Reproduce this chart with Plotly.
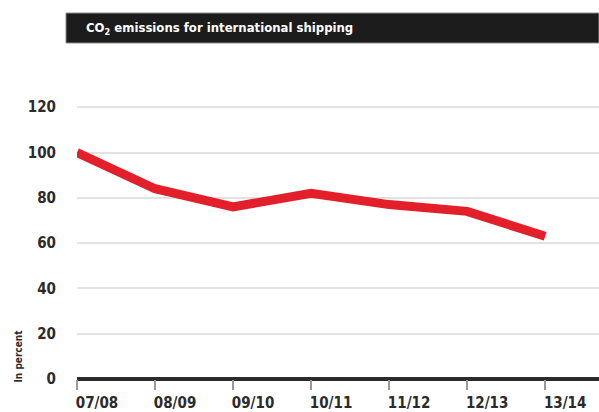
import plotly.graph_objects as go

categories = ["07/08", "08/09", "09/10", "10/11", "11/12", "12/13", "13/14"]
values = [100, 84, 76, 82, 77, 74, 63]
y_ticks = [0, 20, 40, 60, 80, 100, 120]

FONT = "Liberation Sans Narrow, DejaVu Sans Condensed, Arial Narrow, sans-serif"

L, W = 77, 522
T, B = 100, 379
H = B - T

fig = go.Figure()
fig.add_trace(go.Scatter(
    x=list(range(len(categories))), y=values, mode="lines",
    line=dict(color="#e3202a", width=9, shape="linear"),
    hoverinfo="skip", showlegend=False, cliponaxis=False,
))

fig.update_layout(
    width=599, height=412,
    margin=dict(l=L, r=0, t=T, b=412 - B),
    paper_bgcolor="white", plot_bgcolor="white",
    font=dict(family=FONT, color="#2b2b2b"),
    xaxis=dict(
        range=[0, 6.69],
        tickmode="array", tickvals=list(range(len(categories))), ticktext=categories,
        showgrid=False, zeroline=False,
        showline=False,
        ticks="outside", ticklen=10, tickwidth=1.5, tickcolor="#9a9a9a",
        ticklabelshift=20, ticklabelstandoff=0,
        tickfont=dict(family=FONT, size=15, color="#2b2b2b", weight="bold"),
    ),
    yaxis=dict(
        range=[0, H / 2.265],
        tickmode="array", tickvals=y_ticks,
        showgrid=True, gridcolor="#e2e2e2", gridwidth=1.5,
        zeroline=True, zerolinecolor="#2b2b2b", zerolinewidth=3.5,
        showline=False, ticks="", ticklabelstandoff=20,
        tickfont=dict(family=FONT, size=15, color="#2b2b2b", weight="bold"),
    ),
    shapes=[dict(
        type="rect", xref="paper", yref="paper",
        x0=(66 - L) / W, x1=1.0, y0=(B - 43) / H, y1=(B - 13) / H,
        fillcolor="#1c1c1c", line=dict(color="#8a8a8a", width=1),
        layer="above",
    )],
    annotations=[
        dict(
            text="CO<sub>2</sub> emissions for international shipping",
            xref="paper", yref="paper", x=(84 - L) / W, y=(B - 28) / H,
            xanchor="left", yanchor="middle", showarrow=False,
            font=dict(family=FONT, size=13, color="white", weight="bold"),
        ),
        dict(
            text="In percent",
            xref="paper", yref="paper", x=(18 - L) / W, y=-6 / H,
            xanchor="center", yanchor="bottom", textangle=-90, showarrow=False,
            font=dict(family=FONT, size=10, color="#2b2b2b", weight="bold"),
        ),
    ],
)

fig.write_html("out.html")
